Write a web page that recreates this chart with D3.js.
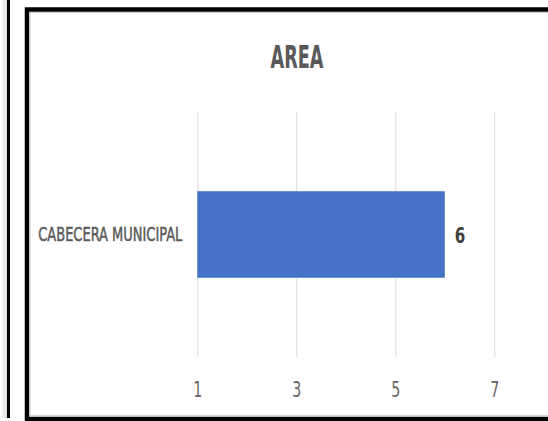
<!DOCTYPE html>
<html>
<head>
<meta charset="utf-8">
<script src="https://cdn.jsdelivr.net/npm/d3@7"></script>
<style>
  html, body { margin: 0; padding: 0; background: #fff; }
  svg { display: block; }
  text { font-family: "Liberation Sans Narrow", "Arial Narrow", "DejaVu Sans Condensed", sans-serif; }
</style>
</head>
<body>
<div id="chart"></div>
<script>
var title = "AREA";
var categories = ["CABECERA MUNICIPAL"];
var values = [6];
var tickValues = [1, 3, 5, 7];
var axisMin = 1, axisMax = 7;

var W = 548, H = 421;

var svg = d3.select("#chart").append("svg")
    .attr("width", W)
    .attr("height", H);

// left neighbour panel edge
var defs = svg.append("defs");
var grad = defs.append("linearGradient").attr("id", "edge");
grad.append("stop").attr("offset", "0%").attr("stop-color", "#ffffff");
grad.append("stop").attr("offset", "100%").attr("stop-color", "#dcdcdc");
svg.append("rect").attr("x", 0).attr("y", 0).attr("width", 7).attr("height", 418).style("fill", "url(#edge)");
svg.append("line").attr("x1", 8.5).attr("x2", 8.5).attr("y1", 0).attr("y2", 418)
    .style("stroke", "#000").style("stroke-width", 3);

// chart frame
svg.append("rect").attr("x", 27).attr("y", 9.5).attr("width", 540).attr("height", 409.5)
    .style("fill", "#fff").style("stroke", "#000").style("stroke-width", 4.5);
svg.append("rect").attr("x", 30).attr("y", 12.5).attr("width", 540).attr("height", 403)
    .style("fill", "none").style("stroke", "#d0d0d0").style("stroke-width", 1);

var plot = {left: 197.3, right: 494.3, top: 112, bottom: 357};

var x = d3.scaleLinear()
    .domain([axisMin, axisMax])
    .range([plot.left, plot.right]);

var y = d3.scaleBand()
    .domain(categories)
    .range([plot.top, plot.bottom])
    .padding(0.478);

// squeeze text horizontally like the source
function squeeze(sel, k) {
    sel.each(function() {
        var len = this.getComputedTextLength();
        d3.select(this).attr("textLength", len * k).attr("lengthAdjust", "spacingAndGlyphs");
    });
}

// gridlines + tick labels
var xAxis = d3.axisBottom(x)
    .tickValues(tickValues)
    .tickSize(-(plot.bottom - plot.top))
    .tickPadding(40)
    .tickFormat(d3.format("d"));

var gx = svg.append("g")
    .attr("transform", "translate(0," + plot.bottom + ")")
    .call(xAxis);
gx.select(".domain").remove();
gx.selectAll(".tick line").style("stroke", "#d9d9d9").style("stroke-width", 1);
gx.selectAll(".tick text")
    .attr("y", 0).attr("dy", 0)
    .attr("transform", "translate(0,40)")
    .style("font-size", "22px")
    .style("fill", "#666666");
squeeze(gx.selectAll(".tick text"), 0.72);

// bars
svg.selectAll("rect.bar")
    .data(values)
    .enter().append("rect")
    .attr("class", "bar")
    .attr("x", x(axisMin))
    .attr("y", function(d, i){ return y(categories[i]); })
    .attr("width", function(d){ return x(d) - x(axisMin); })
    .attr("height", y.bandwidth())
    .style("fill", "#4472C4");

// value labels
var vl = svg.selectAll("text.val")
    .data(values)
    .enter().append("text")
    .attr("class", "val")
    .attr("x", function(d){ return x(d) + 10; })
    .attr("y", function(d, i){ return y(categories[i]) + y.bandwidth() / 2 + 8; })
    .style("font-size", "21px")
    .style("font-weight", "bold")
    .style("fill", "#404040")
    .text(function(d){ return d; });
squeeze(vl, 0.8);

// category labels
var cl = svg.selectAll("text.cat")
    .data(categories)
    .enter().append("text")
    .attr("class", "cat")
    .attr("x", plot.left - 15)
    .attr("y", function(d){ return y(d) + y.bandwidth() / 2 + 6.5; })
    .style("text-anchor", "end")
    .style("font-size", "20px")
    .style("fill", "#595959")
    .style("stroke", "#595959")
    .style("stroke-width", 0.5)
    .text(function(d){ return d; });
cl.each(function() {
    d3.select(this).attr("textLength", 144).attr("lengthAdjust", "spacingAndGlyphs");
});

// title
svg.append("text")
    .attr("x", 297)
    .attr("y", 68)
    .style("text-anchor", "middle")
    .style("font-size", "32px")
    .style("font-weight", "bold")
    .style("fill", "#595959")
    .attr("textLength", 53)
    .attr("lengthAdjust", "spacingAndGlyphs")
    .text(title);
</script>
</body>
</html>
